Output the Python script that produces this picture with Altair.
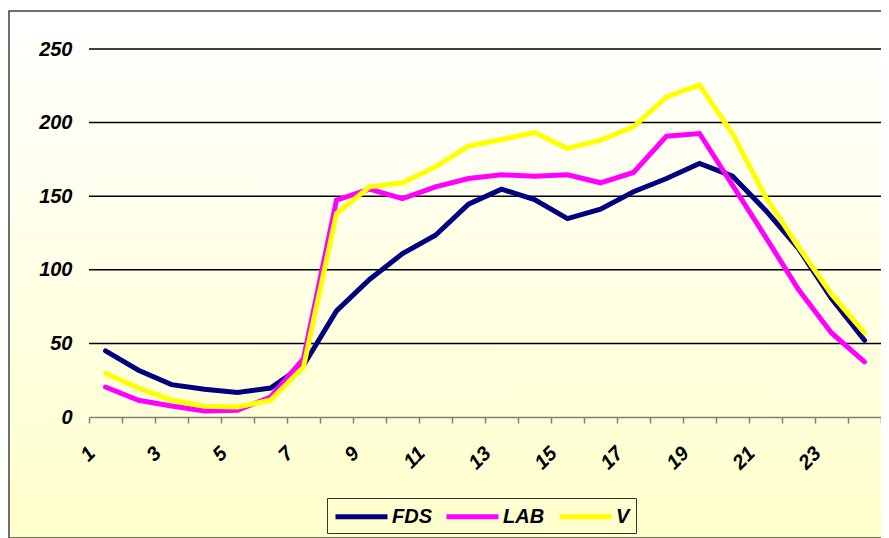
import altair as alt
import pandas as pd

# ---- data ----
hours = list(range(1, 25))
fds = [44.9, 31.8, 22.0, 18.8, 16.6, 19.7, 35.1, 72.1, 93.4, 111.0, 123.5, 144.6,
       154.8, 147.7, 134.8, 141.2, 153.0, 162.0, 172.2, 163.6, 140.5, 114.4, 80.4, 52.1]
lab = [20.4, 11.4, 7.5, 4.1, 4.6, 13.5, 39.7, 147.3, 154.8, 148.4, 156.4, 162.0,
       164.5, 163.6, 164.5, 159.1, 166.1, 190.8, 192.6, 157.5, 122.4, 86.6, 57.1, 37.4]
v_vals = [29.7, 19.7, 11.4, 7.3, 6.8, 11.4, 34.0, 138.2, 156.4, 159.1, 170.0, 184.0,
          188.5, 193.3, 182.4, 188.1, 197.1, 217.5, 225.5, 192.6, 149.6, 115.6, 83.4, 57.1]
series_names = ["FDS", "LAB", "V"]
series_colors = ["#000080", "#FF00FF", "#FFFF00"]
y_ticks = [0, 50, 100, 150, 200, 250]

rows = []
for name, vals in zip(series_names, [fds, lab, v_vals]):
    for h, val in zip(hours, vals):
        rows.append({"hour": h, "value": val, "series": name})
df = pd.DataFrame(rows)

FONT = "Liberation Sans"

y_scale = alt.Scale(domain=[0, 250], nice=False, zero=True)
y_axis = alt.Axis(title=None, values=y_ticks, domain=False, ticks=False,
                  grid=False, labelPadding=17, labelFont=FONT,
                  labelFontSize=20, labelFontWeight="bold",
                  labelFontStyle="italic", labelColor="black", zindex=1)

bg = alt.Chart(pd.DataFrame({"k": [0]})).mark_rect(
    fill={"gradient": "linear", "x1": 0, "y1": 0, "x2": 0, "y2": 1,
          "stops": [{"offset": 0, "color": "#FFFFFF"}, {"offset": 1, "color": "#FFFFCC"}]},
    stroke="#404040", strokeWidth=1.5,
).encode(x=alt.value(-80), x2=alt.value(830), y=alt.value(-38), y2=alt.value(489))

grid = alt.Chart(pd.DataFrame({"value": y_ticks[1:]})).mark_rule(
    color="black", strokeWidth=1.5
).encode(y=alt.Y("value:Q", scale=y_scale, axis=y_axis))

lines = alt.Chart(df).mark_line(strokeWidth=5, strokeCap="round").encode(
    x=alt.X("hour:O",
            scale=alt.Scale(type="band", paddingInner=0, paddingOuter=0),
            bandPosition=0.5,
            axis=alt.Axis(title=None, tickBand="extent",
                          labelExpr="datum.value % 2 == 1 ? datum.label : ''",
                          labelAngle=315, labelAlign="right", labelBaseline="middle",
                          labelOffset=-14, labelPadding=27,
                          tickSize=6, tickColor="#808080", tickWidth=1.5,
                          domainColor="#808080", domainWidth=1.5,
                          grid=False, labelFont=FONT, labelFontSize=20,
                          labelFontWeight="bold", labelFontStyle="italic",
                          labelColor="black", labelOverlap=False, zindex=1)),
    y=alt.Y("value:Q", scale=y_scale, axis=y_axis),
    color=alt.Color("series:N",
                    scale=alt.Scale(domain=series_names, range=series_colors),
                    legend=alt.Legend(title=None, orient="none", legendX=238, legendY=449,
                                      direction="horizontal",
                                      symbolType="M-1,0H4.2",
                                      symbolSize=400, symbolStrokeWidth=5,
                                      labelFont=FONT, labelFontSize=20,
                                      labelFontWeight="bold", labelFontStyle="italic",
                                      labelColor="black", labelOffset=34,
                                      columnPadding=4, padding=6,
                                      strokeColor="#333333")),
)

chart = alt.layer(bg, grid, lines).properties(
    width=792, height=368,
    autosize=alt.AutoSizeParams(type="none"),
    padding={"left": 81, "top": 41, "right": 0, "bottom": 121},
).configure_view(stroke="transparent")

chart.save("out.html", embed_options={"renderer": "svg", "actions": False})
